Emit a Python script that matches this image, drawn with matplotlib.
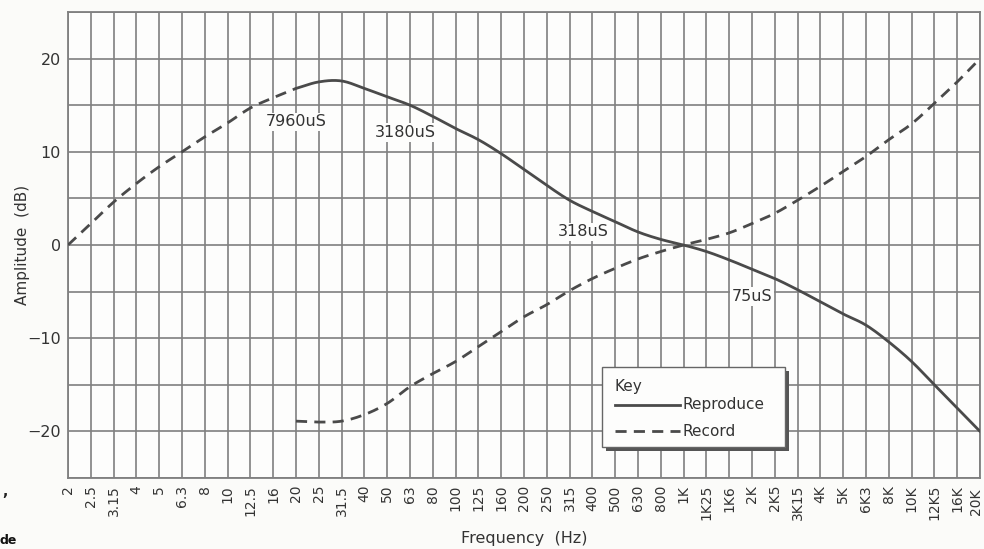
import matplotlib
matplotlib.use("Agg")
import matplotlib.pyplot as plt
import matplotlib.transforms as mtransforms
from matplotlib.patches import Rectangle
import numpy as np

# One-third-octave frequency bands (Hz)
freq_labels = ["2", "2.5", "3.15", "4", "5", "6.3", "8", "10", "12.5", "16",
               "20", "25", "31.5", "40", "50", "63", "80", "100", "125", "160",
               "200", "250", "315", "400", "500", "630", "800", "1K", "1K25", "1K6",
               "2K", "2K5", "3K15", "4K", "5K", "6K3", "8K", "10K", "12K5", "16K", "20K"]

# Reproduce (playback) response, dB, 2 Hz .. 20 kHz
reproduce_db = [0.0, 2.3, 4.6, 6.6, 8.4, 10.0, 11.6, 13.1, 14.7, 15.8,
                16.8, 17.5, 17.6, 16.8, 15.9, 15.0, 13.8, 12.5, 11.3, 9.8,
                8.1, 6.4, 4.8, 3.6, 2.5, 1.4, 0.6, 0.0, -0.7, -1.6,
                -2.6, -3.6, -4.8, -6.1, -7.4, -8.6, -10.4, -12.5, -15.0, -17.5, -20.0]

# Record (cutting) response, dB, 20 Hz .. 20 kHz
record_db = [-18.9, -19.0, -18.9, -18.2, -17.0, -15.2, -13.8, -12.5, -10.9, -9.3,
             -7.7, -6.4, -4.9, -3.6, -2.5, -1.5, -0.7, 0.0, 0.6, 1.3,
             2.3, 3.4, 4.8, 6.3, 7.9, 9.5, 11.3, 13.0, 15.2, 17.5, 20.0]

# Time-constant annotations: (text, band position, dB)
time_constants = [("7960uS", 10.0, 13.2), ("3180uS", 14.8, 12.1),
                  ("318uS", 22.6, 1.4), ("75uS", 30.0, -5.5)]


def smooth(xs, ys, steps=12):
    """Catmull-Rom path through the points, for a curve-plotter look."""
    xs = np.asarray(xs, float)
    ys = np.asarray(ys, float)
    px = np.concatenate([[2 * xs[0] - xs[1]], xs, [2 * xs[-1] - xs[-2]]])
    py = np.concatenate([[2 * ys[0] - ys[1]], ys, [2 * ys[-1] - ys[-2]]])
    out_x, out_y = [], []
    t = np.linspace(0, 1, steps, endpoint=False)
    for i in range(1, len(px) - 2):
        for arr, out in ((px, out_x), (py, out_y)):
            p0, p1, p2, p3 = arr[i - 1], arr[i], arr[i + 1], arr[i + 2]
            out.extend(0.5 * (2 * p1 + (-p0 + p2) * t
                              + (2 * p0 - 5 * p1 + 4 * p2 - p3) * t ** 2
                              + (-p0 + 3 * p1 - 3 * p2 + p3) * t ** 3))
    out_x.append(xs[-1])
    out_y.append(ys[-1])
    return np.array(out_x), np.array(out_y)


W, H = 984, 549
fig = plt.figure(figsize=(W / 100, H / 100), dpi=100)
fig.patch.set_facecolor("#fbfbf9")
ax = fig.add_axes([68 / W, 1 - 478 / H, 912 / W, 466 / H])
ax.set_facecolor("#fdfdfc")

n = len(freq_labels)
x_all = np.arange(n)
split = freq_labels.index("20")

line_col = "#4a4a4a"
dash = (0, (4.0, 2.6))

# Sub-sonic roll-off part of the reproduce curve drawn dashed
ax.plot(*smooth(x_all[:split + 1], reproduce_db[:split + 1]), color=line_col,
        lw=2.0, linestyle=dash, zorder=3)
ax.plot(*smooth(x_all[split:], reproduce_db[split:]), color=line_col, lw=2.0,
        solid_capstyle="round", zorder=3)
x_rec = x_all[split:split + len(record_db)]
ax.plot(*smooth(x_rec, record_db), color=line_col, lw=2.0, linestyle=dash, zorder=3)

ax.set_xlim(0, n - 1)
ax.set_ylim(-25, 25)
ax.set_xticks(x_all[:-1])
ax.set_xticklabels(freq_labels[:-1], rotation=90, fontsize=10, color="#333333")
# Last band label kept just inside the right edge of the figure
ax.text(x_all[-1], -0.012, freq_labels[-1], rotation=90, fontsize=10,
        color="#333333", ha="right", va="top",
        transform=mtransforms.blended_transform_factory(ax.transData, ax.transAxes)
        + mtransforms.ScaledTranslation(3 / 100, -5 / 100, fig.dpi_scale_trans))
ax.set_xticks([x_all[-1]], minor=True)
ax.set_yticks([-20, -10, 0, 10, 20])
ax.set_yticklabels(["\u221220", "\u221210", "0", "10", "20"], fontsize=11.5,
                   color="#333333")
ax.set_yticks(np.arange(-25, 26, 5), minor=True)
ax.tick_params(axis="both", which="both", length=0, pad=5)
ax.grid(True, which="both", color="#808080", lw=1.2, zorder=1)
for s in ax.spines.values():
    s.set_color("#808080")
    s.set_linewidth(1.3)

ax.set_xlabel("Frequency  (Hz)", fontsize=11.5, color="#333333", labelpad=8)
ax.set_ylabel("Amplitude  (dB)", fontsize=11, color="#333333", labelpad=-2)

for txt, xp, yp in time_constants:
    ax.text(xp, yp, txt, ha="center", va="center", fontsize=11.5, color="#333333",
            zorder=4, bbox=dict(boxstyle="square,pad=0.12", fc="#fdfdfc", ec="none"))


# Key box with drop shadow, in pixel coordinates of the figure
def fx(px):
    return px / W


def fy(py):
    return 1 - py / H


bx0, by0, bx1, by1 = 602, 367, 785, 447
fig.patches.append(Rectangle((fx(bx0 + 4), fy(by1 + 4)), fx(bx1 - bx0), (by1 - by0) / H,
                             transform=fig.transFigure, fc="#555555", ec="none", zorder=5))
fig.patches.append(Rectangle((fx(bx0), fy(by1)), fx(bx1 - bx0), (by1 - by0) / H,
                             transform=fig.transFigure, fc="#fdfdfc", ec="#666666",
                             lw=1.0, zorder=6))
fig.text(fx(615), fy(387), "Key", fontsize=11, color="#333333", va="center",
         zorder=7)
fig.lines.append(plt.Line2D([fx(615), fx(680)], [fy(405), fy(405)], color=line_col,
                            lw=2.0, transform=fig.transFigure, zorder=7))
fig.text(fx(683), fy(405), "Reproduce", fontsize=11, color="#333333", va="center",
         zorder=7)
fig.lines.append(plt.Line2D([fx(615), fx(680)], [fy(431), fy(431)], color=line_col,
                            lw=2.0, linestyle=dash, transform=fig.transFigure, zorder=7))
fig.text(fx(683), fy(431), "Record", fontsize=11, color="#333333", va="center",
         zorder=7)

# Fragments of surrounding page text at the left margin
fig.text(fx(2), fy(492), ",", fontsize=10, color="#222222", fontweight="bold",
         va="center")
fig.text(fx(0), fy(541), "de", fontsize=9, color="#111111", fontweight="bold",
         va="center")

fig.savefig("out.png", dpi=100, facecolor=fig.get_facecolor())
